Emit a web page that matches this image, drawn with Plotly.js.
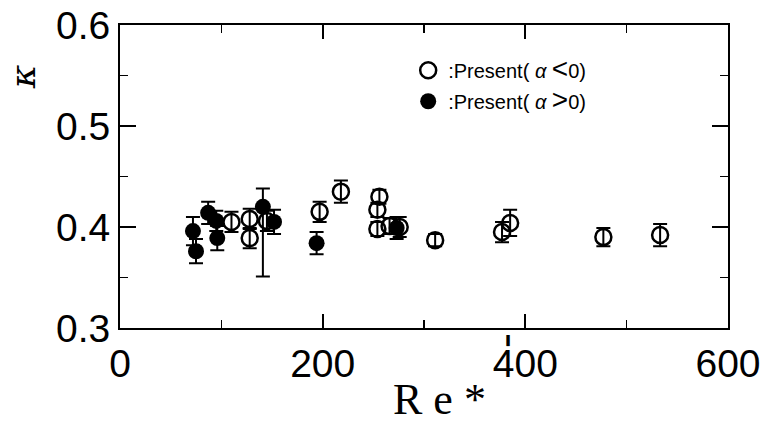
<!DOCTYPE html>
<html>
<head>
<meta charset="utf-8">
<script src="https://cdn.plot.ly/plotly-3.0.1.min.js"></script>
<style>html,body{margin:0;padding:0;background:#fff;}#chart{width:768px;height:426px;}</style>
</head>
<body>
<div id="chart"></div>
<script>
// Filled circles: Present (alpha > 0)
const filledX = [72, 75, 87, 95, 96, 141, 152, 194, 273];
const filledY = [0.396, 0.376, 0.414, 0.406, 0.389, 0.420, 0.405, 0.384, 0.399];
const filledErrPlus = [0.014, 0.012, 0.011, 0.010, 0.012, 0.018, 0.012, 0.011, 0.011];
const filledErrMinus = [0.014, 0.012, 0.011, 0.010, 0.012, 0.069, 0.012, 0.011, 0.011];

// Open circles: Present (alpha < 0)
const openX = [110, 128, 128, 145, 197, 218, 256, 254, 254, 266, 276, 311, 377, 385, 477, 533];
const openY = [0.405, 0.408, 0.389, 0.406, 0.415, 0.435, 0.430, 0.417, 0.398, 0.401, 0.400, 0.387, 0.395, 0.404, 0.390, 0.392];
const openErr = [0.010, 0.010, 0.010, 0.010, 0.010, 0.011, 0.007, 0.007, 0.007, 0.008, 0.010, 0.006, 0.010, 0.013, 0.009, 0.011];

const xTicks = [0, 200, 400, 600];
const yTicks = [0.3, 0.4, 0.5, 0.6];

const openTrace = {
  x: openX, y: openY, type: 'scatter', mode: 'markers',
  name: ':Present( <i>α</i> <span style="font-size:28px">&lt;</span>0)',
  legendgroup: 'a',
  marker: {symbol: 'circle-open', size: 16, color: '#000', line: {width: 2.5, color: '#000'}},
  error_y: {type: 'data', array: openErr, visible: true, color: '#000', thickness: 2, width: 7}
};
const filledTrace = {
  x: filledX, y: filledY, type: 'scatter', mode: 'markers',
  name: ':Present( <i>α</i> <span style="font-size:28px">&gt;</span>0)',
  legendgroup: 'b',
  marker: {symbol: 'circle', size: 16, color: '#000'},
  error_y: {type: 'data', symmetric: false, array: filledErrPlus, arrayminus: filledErrMinus, visible: true, color: '#000', thickness: 2, width: 7}
};

const axFont = {family: 'Liberation Sans, Arial, sans-serif', size: 39, color: '#000'};

const layout = {
  width: 768, height: 426,
  margin: {l: 120, r: 40, t: 25, b: 98},
  paper_bgcolor: '#fff', plot_bgcolor: '#fff',
  showlegend: true,
  legend: {
    x: 0.474, y: 0.915, xanchor: 'left', yanchor: 'top',
    font: {family: 'Liberation Sans, Arial, sans-serif', size: 20, color: '#000'},
    bgcolor: 'rgba(0,0,0,0)', borderwidth: 0,
    traceorder: 'grouped', tracegroupgap: 2
  },
  xaxis: {
    range: [0, 600], tickvals: xTicks, ticktext: xTicks.map(String),
    ticks: 'inside', ticklen: 14, tickwidth: 2, tickcolor: '#000',
    minor: {dtick: 100, ticks: 'inside', ticklen: 8, tickwidth: 1.5, tickcolor: '#000'},
    showline: true, linewidth: 2, linecolor: '#000', mirror: 'ticks',
    showgrid: false, zeroline: false,
    tickfont: axFont
  },
  yaxis: {
    range: [0.3, 0.6], tickvals: yTicks, ticktext: yTicks.map(v => v.toFixed(1)),
    ticks: 'inside', ticklen: 16, tickwidth: 2, tickcolor: '#000',
    minor: {dtick: 0.05, ticks: 'inside', ticklen: 8, tickwidth: 1.5, tickcolor: '#000'},
    showline: true, linewidth: 2, linecolor: '#000', mirror: 'ticks',
    showgrid: false, zeroline: false,
    tickfont: axFont
  },
  annotations: [
    {text: 'R e *', xref: 'paper', yref: 'paper', x: 0.525, y: -0.235, xanchor: 'center', yanchor: 'middle',
     showarrow: false, font: {family: 'Liberation Serif, DejaVu Serif, serif', size: 44, color: '#000'}},
    {text: "'", xref: 'paper', yref: 'paper', x: 0.638, y: -0.075, xanchor: 'center', yanchor: 'middle',
     showarrow: false, font: {family: 'DejaVu Sans Mono, monospace', size: 40, color: '#000'}},
    {text: '<i>κ</i>', xref: 'paper', yref: 'paper', x: -0.16, y: 0.83, xanchor: 'center', yanchor: 'middle',
     textangle: -90, showarrow: false, font: {family: 'DejaVu Serif, serif', size: 36, color: '#000'}}
  ]
};

Plotly.newPlot('chart', [openTrace, filledTrace], layout, {displayModeBar: false, staticPlot: true});
</script>
</body>
</html>
